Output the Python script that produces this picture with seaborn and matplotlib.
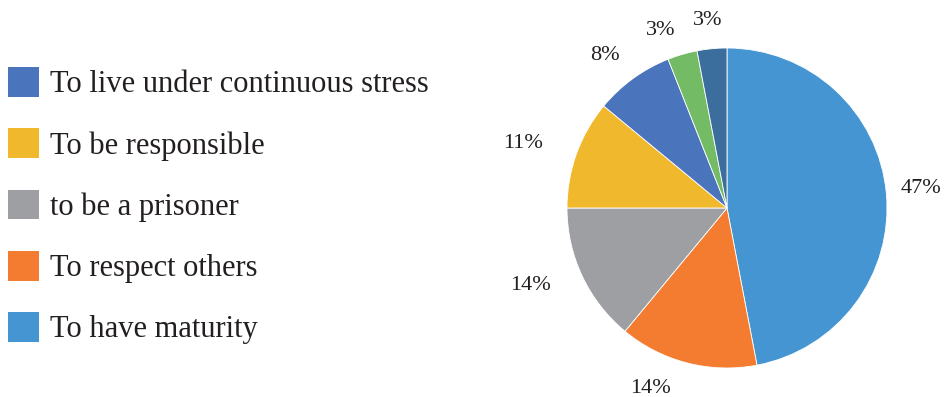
import matplotlib
matplotlib.use("Agg")
import matplotlib.pyplot as plt
import numpy as np
import seaborn as sns

# Slices, clockwise from 12 o'clock
categories = [
    "To have maturity",
    "To respect others",
    "to be a prisoner",
    "To be responsible",
    "To live under continuous stress",
    "",
    "",
]
shares = [47, 14, 14, 11, 8, 3, 3]
pct_labels = ["47%", "14%", "14%", "11%", "8%", "3%", "3%"]
colors = ["#4495D1", "#F47C31", "#9D9FA2", "#F0B92D", "#4A75BD", "#74BB65", "#3C6E9D"]

# percentage label placement: clockwise shift from the slice middle (degrees)
# and distance from the centre (in radii)
label_shift = [-1.4, 9.1, 4.6, -1.4, -2.0, -3.8, -0.3]
label_radius = [1.22, 1.206, 1.315, 1.344, 1.237, 1.204, 1.20]

sns.set_theme(style="white")
plt.rcParams["font.family"] = ["Liberation Serif", "DejaVu Serif"]
palette = sns.color_palette(colors)

W, H = 949, 397
fig = plt.figure(figsize=(W / 100, H / 100), dpi=100)
fig.patch.set_facecolor("white")

# pie axes: centre at (727, 208) px from top-left, radius 160 px
R = 160.0
ax = fig.add_axes([527 / W, 0, 400 / W, 1])

wedges, _ = ax.pie(
    shares,
    colors=palette,
    startangle=90,
    counterclock=False,
    radius=1.0,
    wedgeprops=dict(edgecolor="white", linewidth=0.6),
)
ax.set_aspect("auto")
ax.set_xlim(-200 / R, 200 / R)
ax.set_ylim(-189 / R, 208 / R)
ax.set_axis_off()

for w, lab, sh, rf in zip(wedges, pct_labels, label_shift, label_radius):
    mid = np.deg2rad((w.theta1 + w.theta2) / 2 - sh)
    ax.annotate(lab, (rf * np.cos(mid), rf * np.sin(mid)),
                xytext=(0, -3.5), textcoords="offset pixels",
                ha="center", va="center", fontsize=16, color="#231F20",
                annotation_clip=False)

# legend: named categories, listed bottom slice first
order = [4, 3, 2, 1, 0]
handles = [wedges[i] for i in order]
labels = [categories[i] for i in order]
leg = fig.legend(
    handles, labels,
    loc="upper left",
    bbox_to_anchor=(8 / W, 1 - 67 / H),
    frameon=False,
    fontsize=22,
    handlelength=1.01,
    handleheight=1.12,
    handletextpad=0.36,
    labelspacing=0.95,
    borderpad=0,
    borderaxespad=0,
)
for t in leg.get_texts():
    t.set_color("#231F20")
for h in leg.legend_handles:
    h.set_edgecolor("none")

fig.savefig("out.png", dpi=100, facecolor="white")
